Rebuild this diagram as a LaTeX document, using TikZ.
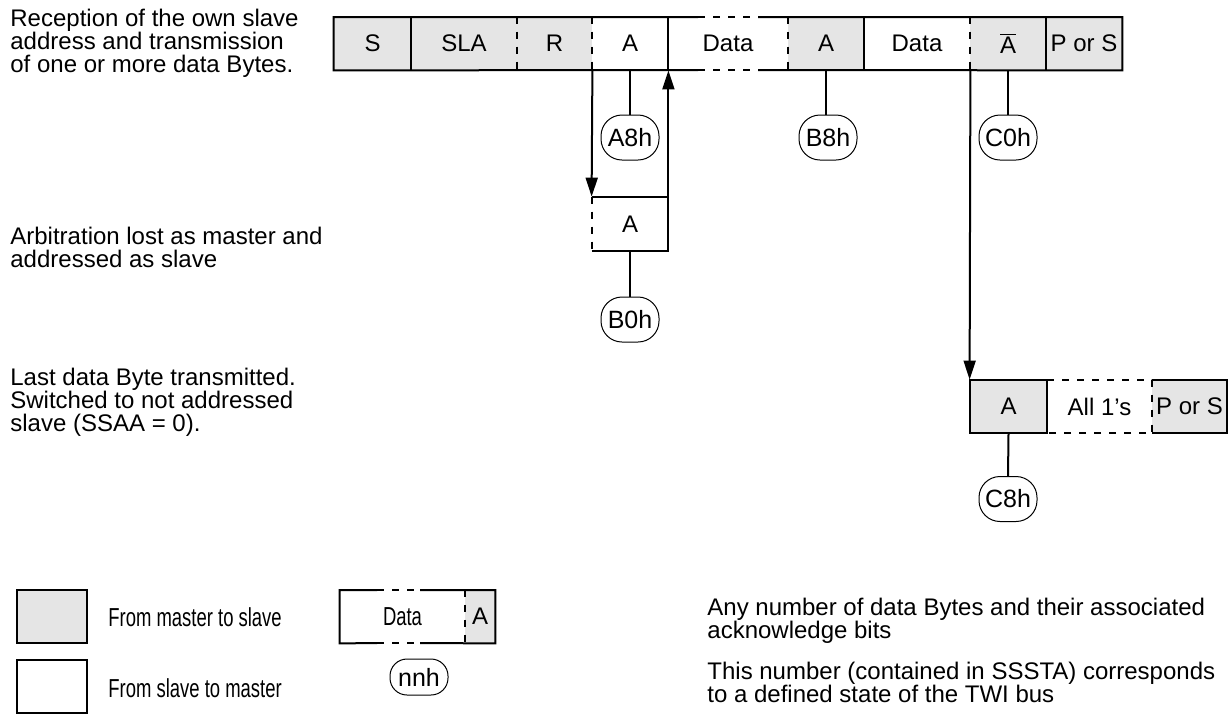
\documentclass[tikz,border=0pt]{standalone}
\usepackage{fontspec}
\setmainfont{Liberation Sans}
\usetikzlibrary{arrows.meta}

\newcommand{\legtext}[1]{{\fontsize{13}{14}\selectfont\scalebox{0.71}[1]{#1}}}

\tikzset{
  bitline/.style={line width=1pt},
  gap/.style={dash pattern=on 3.5pt off 4pt},
  mcell/.style={fill=black!10, minimum height=26.5pt, inner sep=0pt},
  scell/.style={fill=white, minimum height=26.5pt, inner sep=0pt},
  statebubble/.style={draw, line width=0.5pt, rounded corners=10.5pt,
    minimum width=29pt, minimum height=22.5pt, inner sep=0pt,
    font=\fontsize{12.5}{14}\selectfont},
  note/.style={align=left, anchor=west, inner sep=0pt},
  sendarrow/.style={-{Triangle[length=9.5pt,width=6pt]}}
}

\begin{document}
\begin{tikzpicture}[x=0.5pt, y=-0.5pt, font=\fontsize{12}{11.5}\selectfont]
  \useasboundingbox (0,0) rectangle (1229,714);

  %% Own slave address received, data Bytes sent
  \node[note] (txtown) at (10,43.5)
    {Reception of the own slave\\address and transmission\\of one or more data Bytes.};
  \node[mcell, minimum width=38.5pt] (S) at (372.5,43.5) {S};
  \node[mcell, minimum width=53pt] (SLA) at (464,43.5) {SLA};
  \node[mcell, minimum width=37.5pt] (R) at (554.5,43.5) {R};
  \node[scell, minimum width=38pt] (A1) at (630,43.5) {A};
  \node[scell, minimum width=60pt] (D1) at (728,43.5) {Data};
  \node[mcell, minimum width=38pt] (A2) at (826,43.5) {A};
  \node[scell, minimum width=53pt] (D2) at (917,43.5) {Data};
  \node[mcell, minimum width=38pt] (NA) at (1008,43.5) {$\overline{\mbox{A}}$};
  \node[mcell, minimum width=38pt] (PS1) at (1084,43.5) {P or S};

  \draw[bitline] (698,17) -| (S.south west) -- (698,70);
  \draw[bitline, gap] (698,17) -- (758,17) (698,70) -- (758,70);
  \draw[bitline] (758,17) -| (PS1.south east) -- (758,70);
  \draw[bitline] (S.north east) -- (S.south east);
  \draw[bitline, gap] (SLA.north east) -- (SLA.south east);
  \draw[bitline, gap] (R.north east) -- (R.south east);
  \draw[bitline] (A1.north east) -- (A1.south east);
  \draw[bitline, gap] (D1.north east) -- (D1.south east);
  \draw[bitline] (A2.north east) -- (A2.south east);
  \draw[bitline, gap] (D2.north east) -- (D2.south east);
  \draw[bitline] (NA.north east) -- (NA.south east);

  \node[statebubble] (A8h) at (630,137.5) {A8h};
  \node[statebubble] (B8h) at (828,137.5) {B8h};
  \node[statebubble] (C0h) at (1008,137.5) {C0h};
  \draw[bitline] (A1.south) -- (A8h.north);
  \draw[bitline] (A2.south) -- (A2.south |- B8h.north);
  \draw[bitline] (NA.south) -- (C0h.north);

  %% Arbitration lost
  \node[note] (txtlost) at (10,247)
    {Arbitration lost as master and\\addressed as slave};
  \node[scell, minimum width=38pt, minimum height=27pt] (AL) at (630,224) {A};
  \draw[bitline] (AL.south west) -- (AL.south east) -- (AL.north east) -- (AL.north west);
  \draw[bitline, gap] (AL.north west) -- (AL.south west);
  \draw[bitline, sendarrow] (R.south east) -- (AL.north west);
  \draw[bitline, sendarrow] (AL.north east) -- (A1.south east);

  \node[statebubble] (B0h) at (630,319.5) {B0h};
  \draw[bitline] (AL.south) -- (B0h.north);

  %% Last data Byte
  \node[note] (txtlast) at (10,402)
    {Last data Byte transmitted.\\Switched to not addressed\\slave (SSAA = 0).};
  \node[mcell, minimum width=38.5pt] (A3) at (1008.5,406.5) {A};
  \node[scell, minimum width=52.5pt] (ones) at (1099.5,406.5) {All 1's};
  \node[mcell, minimum width=37.5pt] (PS2) at (1189.5,406.5) {P or S};
  \draw[bitline] (A3.north west) rectangle (A3.south east);
  \draw[bitline, gap] (A3.north east) -- (ones.north east) -- (ones.south east) -- (A3.south east);
  \draw[bitline] (ones.north east) -| (PS2.south east) -- (ones.south east);
  \draw[bitline, sendarrow] (D2.south east) -- (A3.north west);

  \node[statebubble] (C8h) at (1008,499) {C8h};
  \draw[bitline] (A3.south) -- (C8h.north);

  %% Legend
  \node[mcell, draw, bitline, minimum width=35pt] (keymaster) at (52,616.5) {};
  \node[note] (txtmaster) at (108,617) {\legtext{From master to slave}};
  \node[scell, draw, bitline, minimum width=35pt] (keyslave) at (52,686.5) {};
  \node[note] (txtslave) at (108,688) {\legtext{From slave to master}};

  \node[scell, minimum width=62.5pt] (keydata) at (402.5,616.5) {\legtext{Data}};
  \node[mcell, minimum width=15pt] (keyack) at (480,616.5) {A};
  \draw[bitline] (377,590) -| (keydata.south west) -- (377,643);
  \draw[bitline, gap] (377,590) -- (420,590) (377,643) -- (420,643);
  \draw[bitline] (420,590) -| (keyack.south east) -- (420,643);
  \draw[bitline, gap] (keydata.north east) -- (keydata.south east);
  \node[statebubble, minimum height=18pt, rounded corners=8.5pt] (keystate) at (419,677) {nnh};

  \node[note] (txtdata) at (707,621)
    {Any number of data Bytes and their associated\\acknowledge bits};
  \node[note] (txtstate) at (707,682)
    {This number (contained in SSSTA) corresponds\\to a defined state of the TWI bus};
\end{tikzpicture}
\end{document}
